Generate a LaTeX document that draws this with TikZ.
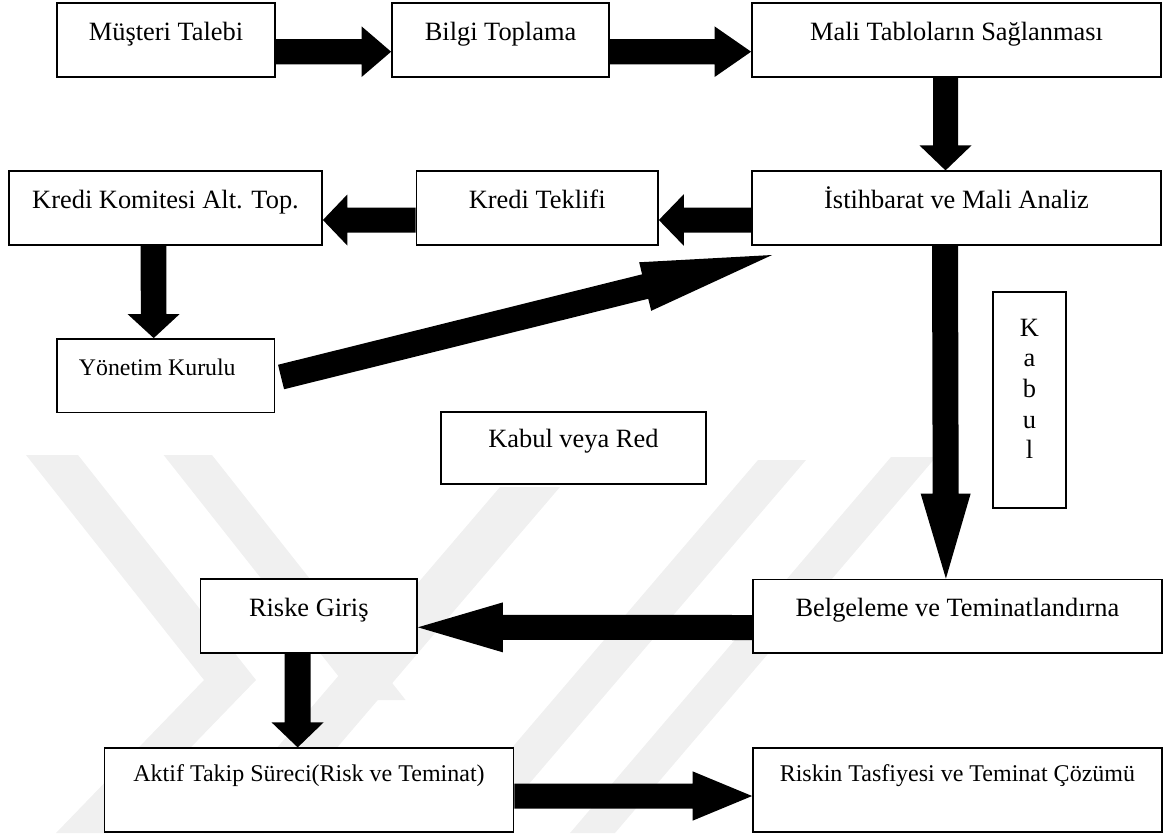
\documentclass[tikz,border=0pt]{standalone}
\usepackage{fontspec}
\setmainfont{Liberation Serif}
\usetikzlibrary{calc}

% Block arrow: #1 start, #2 tip (coordinate names), #3 half shaft width,
% #4 half head width, #5 head length
\newcommand{\blockarrow}[5]{%
  \coordinate (ba-h) at ($(#2)!#5!(#1)$);
  \fill[black] ($(#1)!#3!90:(#2)$) -- ($(ba-h)!#3!90:(#2)$) -- ($(ba-h)!#4!90:(#2)$)
    -- (#2) -- ($(ba-h)!#4!-90:(#2)$) -- ($(ba-h)!#3!-90:(#2)$)
    -- ($(#1)!#3!-90:(#2)$) -- cycle;}

\tikzset{
  box/.style={draw=black, line width=1.8pt, fill=white, inner sep=0pt,
    text height=36.7pt, text depth=36.7pt,
    font=\fontsize{26.4}{30}\selectfont},
  tallbox/.style={box, text height=33.4pt, text depth=50pt,
    font=\fontsize{24}{28}\selectfont},
  wm/.style={fill=black!6, draw=none},
}

\begin{document}
\begin{tikzpicture}[x=1pt,y=-1pt]
\useasboundingbox (0,0) rectangle (1166,833);

% faint background emblem
\begin{scope}
  \clip (0,0) rectangle (1166,833);
  \fill[wm] (26,455) -- (78,455) -- (256,680) -- (108,833) -- (56,833) -- (204,680) -- cycle;
  \fill[wm] (163.6,455) -- (212,455) -- (405.6,700) -- (357.2,700) -- cycle;
  \fill[wm] (500,487) -- (560,487) -- (264,833) -- (204,833) -- cycle;
  \fill[wm] (758,460) -- (806,460) -- (487,833) -- (439,833) -- cycle;
  \fill[wm] (891,457) -- (936,457) -- (615,833) -- (570,833) -- cycle;
\end{scope}

% process steps
\node[box, minimum width=218pt]   (mt)  at (166,40)    {Müşteri Talebi};
\node[box, minimum width=217pt]   (bt)  at (500.5,40)  {Bilgi Toplama};
\node[box, minimum width=409pt]   (mts) at (956.5,40)  {Mali Tabloların Sağlanması};
\node[box, minimum width=409pt]   (ist) at (956.5,208) {İstihbarat ve Mali Analiz};
\node[box, minimum width=241.5pt] (kt)  at (537.2,208) {Kredi Teklifi};
\node[box, minimum width=313pt]   (kk)  at (165.5,208) {Kredi Komitesi Alt. Top.};
\node[box, minimum width=217.5pt, font=\fontsize{23.8}{27}\selectfont]
      (yk)  at (165.7,375.7) {Yönetim Kurulu\hspace*{16.8pt}};
\node[box, minimum width=265.3pt, text height=36.2pt, text depth=36.2pt]
      (kvr) at (573.4,447.9) {Kabul veya Red};
\node[box, minimum width=73pt, text height=108.2pt, text depth=108.2pt]
      (kab) at (1029.5,399.9) {};
\node[anchor=north, align=center, inner sep=0pt, font=\fontsize{26.4}{30.6}\selectfont]
      (kabtxt) at ($(kab.north)+(0,28)$) {K\\a\\b\\u\\l};
\node[box, minimum width=216.5pt] (rg)  at (308.8,616)   {Riske Giriş};
\node[box, minimum width=408.8pt] (bel) at (957.4,616.2) {Belgeleme ve Teminatlandırna};
\node[tallbox, minimum width=409pt]   (akt) at (309,790)   {Aktif Takip Süreci(Risk ve Teminat)};
\node[tallbox, minimum width=408.8pt] (rtc) at (957.4,790) {Riskin Tasfiyesi ve Teminat Çözümü};

% connectors
\coordinate (a1s) at ($(mt.east)+(0,11.7)$);
\coordinate (a1e) at ($(bt.west)+(0,11.7)$);
\blockarrow{a1s}{a1e}{12.65pt}{25.3pt}{29.5pt}

\coordinate (a2s) at ($(bt.east)+(0,11.7)$);
\coordinate (a2e) at ($(mts.west)+(0,11.7)$);
\blockarrow{a2s}{a2e}{12.65pt}{25.3pt}{36.5pt}

\coordinate (a3s) at ($(mts.south)+(-11,0)$);
\coordinate (a3e) at ($(ist.north)+(-11,0)$);
\blockarrow{a3s}{a3e}{12.5pt}{26pt}{25pt}

\coordinate (a4s) at ($(ist.west)+(0,12)$);
\coordinate (a4e) at ($(kt.east)+(0,12)$);
\blockarrow{a4s}{a4e}{12.5pt}{25.8pt}{25pt}

\coordinate (a5s) at ($(kt.west)+(0,12)$);
\coordinate (a5e) at ($(kk.east)+(0,12)$);
\blockarrow{a5s}{a5e}{12.5pt}{25.5pt}{24.4pt}

\coordinate (a6s) at ($(kk.south)+(-12,0)$);
\coordinate (a6e) at ($(yk.north)+(-12,0)$);
\blockarrow{a6s}{a6e}{12.85pt}{26pt}{24pt}

\coordinate (a7s) at ($(yk.east)+(5.7,1.3)$);
\coordinate (a7e) at ($(ist.south west)+(21,9.4)$);
\blockarrow{a7s}{a7e}{12.6pt}{25pt}{130.8pt}

\coordinate (a8s) at ($(ist.south)+(-11.5,0)$);
\coordinate (a8e) at ($(bel.north)+(-11.5,0)$);
\blockarrow{a8s}{a8e}{13pt}{25pt}{85pt}

\coordinate (a9s) at ($(bel.west)+(0,11.3)$);
\coordinate (a9e) at ($(rg.east)+(0,11.3)$);
\blockarrow{a9s}{a9e}{12.5pt}{25pt}{85pt}

\coordinate (a10s) at ($(rg.south)+(-11.3,0)$);
\coordinate (a10e) at ($(akt.north)+(-11.3,0)$);
\blockarrow{a10s}{a10e}{13pt}{26pt}{25pt}

\coordinate (a11s) at ($(akt.east)+(0,6)$);
\coordinate (a11e) at ($(rtc.west)+(0,6)$);
\blockarrow{a11s}{a11e}{12.5pt}{24.7pt}{59.6pt}
\end{tikzpicture}
\end{document}
